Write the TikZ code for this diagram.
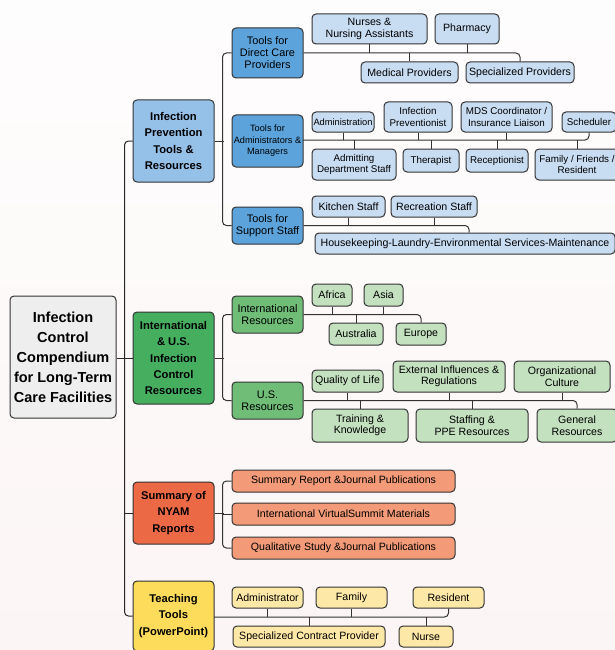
\documentclass[tikz,border=0pt]{standalone}
\usepackage{fontspec}
\setmainfont{Liberation Sans}
\definecolor{bgtop}{HTML}{FEFDFD}
\definecolor{bgbot}{HTML}{FCF5F5}
\definecolor{rootc}{HTML}{EEEEEE}
\definecolor{blueA}{HTML}{95C0E8}
\definecolor{blueB}{HTML}{5CA3DB}
\definecolor{blueC}{HTML}{C8DCF2}
\definecolor{greenA}{HTML}{45AF5F}
\definecolor{greenB}{HTML}{6FBD77}
\definecolor{greenC}{HTML}{C3E0BF}
\definecolor{orA}{HTML}{EC6946}
\definecolor{orB}{HTML}{F39B78}
\definecolor{yeA}{HTML}{FDDB5B}
\definecolor{yeB}{HTML}{FDE8A8}
\definecolor{linec}{HTML}{333333}
\begin{document}
\begin{tikzpicture}[x=1pt,y=-1pt,
  box/.style={draw=linec, line width=1pt, rounded corners=4pt, align=center, inner sep=0pt, text=black},
  rootbox/.style={box, fill=rootc, font=\bfseries\fontsize{14.5}{20}\selectfont},
  lone/.style={box, font=\bfseries\fontsize{11.2}{16.3}\selectfont},
  ltwo/.style={box, font=\fontsize{10.9}{12}\selectfont},
  lthree/.style={box, font=\fontsize{10.6}{11.5}\selectfont},
  lsmall/.style={box, font=\fontsize{9.8}{11.5}\selectfont},
  conn/.style={draw=linec, line width=1pt, rounded corners=4pt},
  trunk/.style={draw=black!85, line width=1pt, rounded corners=4pt}]
\useasboundingbox (0,0) rectangle (615,650);
\clip (0,0) rectangle (615,650);
\shade[top color=bgtop, bottom color=bgbot] (0,0) rectangle (615,650);

% root
\node[rootbox, minimum width=106, minimum height=122] (root) at (63,357) {Infection\\Control\\Compendium\\for Long-Term\\Care Facilities};

% level 1
\node[lone, fill=blueA, minimum width=81, minimum height=82] (iptr) at (173.5,141) {Infection\\Prevention\\Tools \&\\Resources};
\node[lone, fill=greenA, minimum width=81, minimum height=92] (intl) at (173.5,358) {International\\\& U.S.\\Infection\\Control\\Resources};
\node[lone, fill=orA, minimum width=81, minimum height=62] (nyam) at (173.5,513) {Summary of\\NYAM\\Reports};
\node[lone, fill=yeA, minimum width=81, minimum height=70] (teach) at (173.5,616) {Teaching\\Tools\\(PowerPoint)};

% level 2
\node[ltwo, fill=blueB, minimum width=71, minimum height=50] (dc) at (267.5,53) {Tools for\\Direct Care\\Providers};
\node[box, fill=blueB, minimum width=71, minimum height=52, font=\fontsize{9.2}{11.5}\selectfont] (adm) at (267.5,141) {Tools for\\Administrators \&\\Managers};
\node[ltwo, fill=blueB, minimum width=71, minimum height=37] (sup) at (267.5,225.5) {Tools for\\Support Staff};
\node[ltwo, fill=greenB, minimum width=71, minimum height=37] (intlr) at (267.5,314.5) {International\\Resources};
\node[ltwo, fill=greenB, minimum width=71, minimum height=37] (usr) at (267.5,400.5) {U.S.\\Resources};
\node[lthree, fill=orB, minimum width=223, minimum height=22] (sr) at (343.5,481) {Summary Report \&Journal Publications};
\node[lthree, fill=orB, minimum width=223, minimum height=22] (vs) at (343.5,514) {International VirtualSummit Materials};
\node[lthree, fill=orB, minimum width=223, minimum height=22] (qs) at (343.5,548) {Qualitative Study \&Journal Publications};

% direct care
\node[lthree, fill=blueC, minimum width=115, minimum height=30] (nurses) at (369.5,29) {Nurses \&\\Nursing Assistants};
\node[lthree, fill=blueC, minimum width=64, minimum height=30] (pharm) at (467,29) {Pharmacy};
\node[lthree, fill=blueC, minimum width=97, minimum height=21] (medp) at (409.5,72.5) {Medical Providers};
\node[lthree, fill=blueC, minimum width=108, minimum height=21] (specp) at (520,72.5) {Specialized Providers};

% administrators
\node[box, fill=blueC, minimum width=62, minimum height=20, font=\fontsize{9.3}{11.5}\selectfont] (admn) at (343,122) {Administration};
\node[lsmall, fill=blueC, minimum width=68, minimum height=30] (infp) at (418,117) {Infection\\Preventionist};
\node[lsmall, fill=blueC, minimum width=91, minimum height=30] (mds) at (506.5,117) {MDS Coordinator /\\Insurance Liaison};
\node[lsmall, fill=blueC, minimum width=54, minimum height=20] (sched) at (589,122) {Scheduler};
\node[lsmall, fill=blueC, minimum width=84, minimum height=31] (admit) at (354,164.5) {Admitting\\Department Staff};
\node[lsmall, fill=blueC, minimum width=56, minimum height=23] (ther) at (431,160.5) {Therapist};
\node[lsmall, fill=blueC, minimum width=62, minimum height=23] (recep) at (497,160.5) {Receptionist};
\node[lsmall, fill=blueC, minimum width=84, minimum height=31] (fam) at (577,164.5) {Family / Friends /\\Resident};

% support
\node[lthree, fill=blueC, minimum width=73, minimum height=21] (kitch) at (348.5,206.5) {Kitchen Staff};
\node[lthree, fill=blueC, minimum width=86, minimum height=21] (recr) at (434,206.5) {Recreation Staff};
\node[lthree, fill=blueC, minimum width=300, minimum height=21] (house) at (465,243.5) {Housekeeping-Laundry-Environmental Services-Maintenance};

% international
\node[lthree, fill=greenC, minimum width=40, minimum height=22] (africa) at (332,295) {Africa};
\node[lthree, fill=greenC, minimum width=39, minimum height=22] (asia) at (383.5,295) {Asia};
\node[lthree, fill=greenC, minimum width=54, minimum height=22] (austr) at (356,334) {Australia};
\node[lthree, fill=greenC, minimum width=50, minimum height=22] (europe) at (421,334) {Europe};

% US
\node[lthree, fill=greenC, minimum width=71, minimum height=22] (qol) at (347.5,381) {Quality of Life};
\node[lthree, fill=greenC, minimum width=112, minimum height=31] (ext) at (449,376.5) {External Influences \&\\Regulations};
\node[lthree, fill=greenC, minimum width=96, minimum height=31] (org) at (562,376.5) {Organizational\\Culture};
\node[lthree, fill=greenC, minimum width=96, minimum height=33] (train) at (360,425.5) {Training \&\\Knowledge};
\node[lthree, fill=greenC, minimum width=112, minimum height=33] (staff) at (472,425.5) {Staffing \&\\PPE Resources};
\node[lthree, fill=greenC, minimum width=80, minimum height=33] (gen) at (577,425.5) {General\\Resources};

% teaching
\node[lthree, fill=yeB, minimum width=71, minimum height=21] (tadm) at (267.5,597.5) {Administrator};
\node[lthree, fill=yeB, minimum width=71, minimum height=21] (tfam) at (351.5,597.5) {Family};
\node[lthree, fill=yeB, minimum width=71, minimum height=21] (tres) at (448.5,597.5) {Resident};
\node[lthree, fill=yeB, minimum width=152, minimum height=21] (tscp) at (309,636.5) {Specialized Contract Provider};
\node[lthree, fill=yeB, minimum width=54, minimum height=21] (tnur) at (426,636.5) {Nurse};

% ---- connectors ----
% trunk
\draw[trunk] (iptr.west) -- ++(-8,0) |- (teach.west);
\draw[trunk] (root.east |- intl.west) -- (intl.west);
\draw[trunk] (nyam.west) -- ++(-8,0);

% level 1 -> level 2 brackets
\draw[conn] (iptr.east) -- ++(9,0);
\draw[conn] (dc.west) -- ++(-9,0) |- (sup.west);
\draw[conn] (intl.east) -- ++(9,0);
\draw[conn] (intlr.west) -- ++(-9,0) |- (usr.west);
\draw[conn] (nyam.east) -- ++(9,0);
\draw[conn] (sr.west) -- ++(-9,0) |- (qs.west);
\draw[conn] (vs.west) -- ++(-9,0);

% direct care bus
\draw[conn] (dc.east) -| (specp.north);
\draw[conn] (nurses.south) -- (nurses.south |- dc.east);
\draw[conn] (pharm.south) -- (pharm.south |- dc.east);
\draw[conn] (medp.north) -- (medp.north |- dc.east);

% administrators bus
\coordinate (ab) at (303,140);
\draw[conn] (ab) -| (sched.south);
\draw[conn] (admn.south) -- (admn.south |- ab);
\draw[conn] (infp.south) -- (infp.south |- ab);
\draw[conn] (mds.south) -- (mds.south |- ab);
\draw[conn] (admit.north) -- (admit.north |- ab);
\draw[conn] (ther.north) -- (ther.north |- ab);
\draw[conn] (recep.north) -- (recep.north |- ab);
\draw[conn] (fam.north) -- (fam.north |- ab);

% support bus
\draw[conn] (sup.east) -| ([xshift=4pt]house.north);
\draw[conn] (kitch.south) -- (kitch.south |- sup.east);
\draw[conn] (recr.south) -- (recr.south |- sup.east);

% international bus
\draw[conn] (intlr.east) -| (europe.north);
\draw[conn] (africa.south) -- (africa.south |- intlr.east);
\draw[conn] (asia.south) -- (asia.south |- intlr.east);
\draw[conn] (austr.north) -- (austr.north |- intlr.east);

% US bus
\draw[conn] (usr.east) -| (gen.north);
\draw[conn] (qol.south) -- (qol.south |- usr.east);
\draw[conn] (ext.south) -- (ext.south |- usr.east);
\draw[conn] (org.south) -- (org.south |- usr.east);
\draw[conn] (train.north) -- (train.north |- usr.east);
\draw[conn] (staff.north) -- (staff.north |- usr.east);

% teaching bus
\coordinate (tb) at (214,617);
\draw[conn] (tb) -| (tres.south);
\draw[conn] (tadm.south) -- (tadm.south |- tb);
\draw[conn] (tfam.south) -- (tfam.south |- tb);
\draw[conn] (tscp.north) -- (tscp.north |- tb);
\draw[conn] (tnur.north) -- (tnur.north |- tb);
\end{tikzpicture}
\end{document}
